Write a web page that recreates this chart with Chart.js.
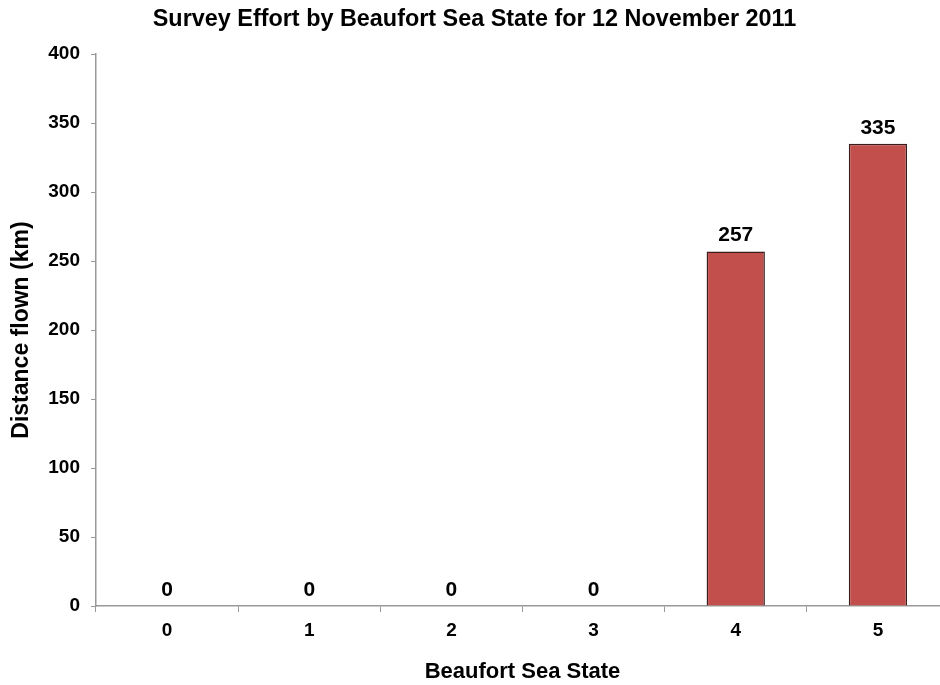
<!DOCTYPE html>
<html>
<head>
<meta charset="utf-8">
<script src="https://cdn.jsdelivr.net/npm/chart.js@4/dist/chart.umd.min.js"></script>
<style>
  html, body { margin: 0; padding: 0; background: #fff; overflow: hidden; }
  #wrap { width: 950px; height: 685px; }
</style>
</head>
<body>
<div id="wrap"><canvas id="seaChart" width="950" height="685"></canvas></div>
<script>
// Datos del gráfico
const seaStates = ['0', '1', '2', '3', '4', '5'];
const distanceKm = [0, 0, 0, 0, 257, 335];
const yTicks = [0, 50, 100, 150, 200, 250, 300, 350, 400];

const FONT = 'Liberation Sans, Arial, sans-serif';

// Etiquetas de valor encima de cada barra
const valueLabels = {
    id: 'valueLabels',
    afterDatasetsDraw(chart) {
        const ctx = chart.ctx;
        const meta = chart.getDatasetMeta(0);
        ctx.save();
        ctx.font = 'bold 21px ' + FONT;
        ctx.fillStyle = '#000';
        ctx.textAlign = 'center';
        ctx.textBaseline = 'alphabetic';
        meta.data.forEach((bar, i) => {
            ctx.fillText(String(distanceKm[i]), bar.x, bar.y - 10);
        });
        ctx.restore();
    }
};

const ctx = document.getElementById('seaChart').getContext('2d');
new Chart(ctx, {
    type: 'bar',
    data: {
        labels: seaStates,
        datasets: [{
            data: distanceKm,
            backgroundColor: '#C24F4C',
            borderColor: '#3a1c1c',
            borderWidth: 1.5,
            categoryPercentage: 1,
            barPercentage: 0.41
        }]
    },
    options: {
        responsive: false,
        animation: false,
        layout: { padding: { left: 0, right: 1, top: 0, bottom: 0 } },
        plugins: {
            legend: { display: false },
            tooltip: { enabled: false },
            title: {
                display: true,
                text: 'Survey Effort by Beaufort Sea State for 12 November 2011',
                color: '#000',
                font: { family: FONT, size: 23.4, weight: 'bold' },
                padding: { top: 6, bottom: 20 }
            }
        },
        scales: {
            x: {
                grid: {
                    display: true,
                    drawOnChartArea: false,
                    offset: true,
                    tickLength: 6,
                    color: '#999'
                },
                border: { color: '#999', width: 1.5 },
                ticks: {
                    color: '#000',
                    padding: 7,
                    font: { family: FONT, size: 19, weight: 'bold' }
                },
                title: {
                    display: true,
                    text: 'Beaufort Sea State',
                    color: '#000',
                    font: { family: FONT, size: 22, weight: 'bold' },
                    padding: { top: 0, bottom: 0 }
                },
                afterFit(scale) { scale.height = 79; }
            },
            y: {
                min: 0,
                max: 400,
                afterBuildTicks(scale) {
                    scale.ticks = yTicks.map(v => ({ value: v }));
                },
                grid: {
                    display: true,
                    drawOnChartArea: false,
                    tickLength: 5,
                    color: '#999'
                },
                border: { color: '#999', width: 1.5 },
                ticks: {
                    color: '#000',
                    padding: 11,
                    font: { family: FONT, size: 19, weight: 'bold' }
                },
                title: {
                    display: true,
                    text: 'Distance flown (km)',
                    color: '#000',
                    font: { family: FONT, size: 23, weight: 'bold' },
                    padding: { top: 8, bottom: 0 }
                },
                afterFit(scale) { scale.width = 96; }
            }
        }
    },
    plugins: [valueLabels]
});
</script>
</body>
</html>
